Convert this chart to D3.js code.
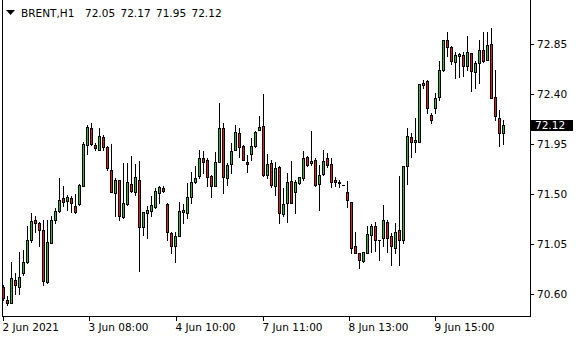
<!DOCTYPE html>
<html>
<head>
<meta charset="utf-8">
<script src="https://cdn.jsdelivr.net/npm/d3@7"></script>
<style>
  body { margin: 0; background: #fff; }
  text { font-family: "DejaVu Sans", sans-serif; font-size: 10.5px; fill: #000; }
</style>
</head>
<body>
<div id="chart"></div>
<script>
// BRENT H1 - data lästa från bilden
const open = [70.66,70.55,70.52,70.73,70.66,70.79,70.89,71.09,71.27,71.24,
  71.18,70.71,71.06,71.27,71.35,71.46,71.44,71.46,71.39,71.41,
  71.57,71.94,72.09,71.94,71.90,72.01,71.92,71.72,71.51,71.63,
  71.29,71.41,71.59,71.52,71.63,71.20,71.33,71.35,71.38,71.51,
  71.55,71.41,71.15,71.03,71.12,71.34,71.33,71.47,71.61,71.66,
  71.82,71.81,71.66,71.57,71.79,72.09,71.64,71.77,71.90,72.05,
  71.93,71.79,71.86,71.93,72.08,72.11,71.67,71.78,71.57,71.74,
  71.32,71.42,71.62,71.52,71.60,71.64,71.83,71.78,71.81,71.59,
  71.68,71.82,71.77,71.63,71.61,71.58,71.52,71.43,71.03,70.97,
  70.90,70.97,71.13,71.21,71.09,71.10,71.25,71.12,71.01,71.18,
  71.09,71.75,72.01,71.97,71.97,72.48,72.52,72.21,72.27,72.37,
  72.62,72.89,72.82,72.69,72.74,72.75,72.65,72.77,72.60,72.68,
  72.80,72.71,72.85,72.37,72.18,72.05];

const high = [70.68,70.58,70.89,70.79,70.98,71.00,71.21,71.33,71.30,71.25,
  71.27,71.27,71.30,71.37,71.64,71.57,71.49,71.48,71.50,71.59,
  71.97,72.12,72.14,71.96,72.09,72.03,71.93,71.95,71.64,71.63,
  71.78,71.78,71.84,71.77,71.80,71.34,71.39,71.48,71.55,71.57,
  71.57,71.42,71.16,71.16,71.43,71.41,71.60,71.70,71.75,71.90,
  71.89,71.82,71.67,71.88,72.32,72.14,71.78,71.96,72.12,72.09,
  71.94,71.85,72.00,72.07,72.20,72.40,71.86,71.81,71.79,71.75,
  71.55,71.69,71.80,71.63,71.65,71.89,71.84,72.07,71.82,71.76,
  71.90,71.87,71.82,71.65,71.63,71.58,71.62,71.43,71.16,70.97,
  70.98,71.21,71.23,71.25,71.09,71.40,71.27,71.15,71.24,71.66,
  71.75,72.09,72.05,72.18,72.49,72.53,72.53,72.23,72.41,72.70,
  72.89,72.96,72.83,72.78,72.77,72.78,72.92,72.77,72.70,72.89,
  72.96,72.96,72.99,72.62,72.26,72.17];

const low = [70.55,70.50,70.52,70.60,70.60,70.77,70.88,71.07,71.16,71.03,
  70.68,70.70,71.06,71.24,71.34,71.39,71.36,71.34,71.33,71.40,
  71.57,71.86,71.94,71.90,71.90,71.90,71.72,71.52,71.30,71.27,
  71.28,71.40,71.52,71.49,70.81,71.13,71.10,71.30,71.37,71.42,
  71.52,71.09,70.97,70.89,71.12,71.24,71.28,71.42,71.60,71.64,
  71.69,71.57,71.47,71.57,71.79,71.51,71.58,71.69,71.90,71.83,
  71.81,71.70,71.81,71.92,72.08,71.66,71.64,71.56,71.49,71.24,
  71.30,71.25,71.42,71.33,71.59,71.63,71.75,71.76,71.57,71.36,
  71.67,71.74,71.56,71.57,71.56,71.58,71.38,70.97,70.97,70.83,
  70.89,70.97,70.98,70.99,70.91,71.03,70.98,70.86,70.97,70.86,
  71.06,71.59,71.83,71.88,71.97,72.45,72.23,72.14,72.23,72.35,
  72.61,72.74,72.67,72.54,72.55,72.56,72.62,72.43,72.45,72.50,
  72.69,72.71,72.36,72.17,71.93,71.95];

const close = [70.56,70.52,70.74,70.68,70.75,70.89,71.09,71.26,71.24,71.18,
  70.72,71.07,71.27,71.35,71.45,71.43,71.47,71.42,71.34,71.58,
  71.95,72.10,71.95,71.91,72.02,71.92,71.73,71.52,71.63,71.30,
  71.42,71.61,71.53,71.65,71.20,71.34,71.36,71.40,71.53,71.56,
  71.53,71.16,71.03,71.12,71.35,71.36,71.47,71.61,71.64,71.82,
  71.79,71.65,71.57,71.79,72.09,71.65,71.76,71.89,72.06,71.92,
  71.81,71.77,71.93,72.06,72.10,71.67,71.77,71.58,71.73,71.33,
  71.41,71.61,71.42,71.61,71.65,71.82,71.76,71.80,71.58,71.67,
  71.80,71.76,71.61,71.61,71.60,71.58,71.45,71.01,70.97,70.91,
  70.98,71.14,71.21,71.09,71.09,71.27,71.10,71.03,71.16,71.09,
  71.75,72.02,71.97,71.99,72.49,72.50,72.27,72.17,72.36,72.62,
  72.89,72.82,72.70,72.75,72.76,72.65,72.78,72.61,72.68,72.80,
  72.70,72.84,72.36,72.20,72.05,72.12];

// axlar
const priceTicks = [72.85, 72.40, 71.95, 71.50, 71.05, 70.60];
const timeLabels = ["2 Jun 2021", "3 Jun 08:00", "4 Jun 10:00", "7 Jun 11:00", "8 Jun 13:00", "9 Jun 15:00"];
const timeIdx = [0, 21.5, 43.25, 65, 86.5, 108];

const width = 580, height = 340;
const plotLeft = 2, plotRight = 530, plotBottom = 316;
const bullColor = "#2fb52f", bearColor = "#e31a1a";

const N = open.length;
const last = N - 1;

const svg = d3.select("#chart")
  .append("svg")
  .attr("width", width)
  .attr("height", height)
  .style("shape-rendering", "crispEdges");

// Skalor
const x = d3.scaleLinear()
  .domain([0, N - 1])
  .range([3, 3 + 4 * (N - 1)]);

const y = d3.scaleLinear()
  .domain([70.60, 72.85])
  .range([294, 44]);

const px = i => Math.round(x(i));
const py = v => Math.round(y(v));

// Ram
svg.append("path")
  .attr("d", `M${plotLeft + 0.5},0 V${plotBottom + 0.5} H${plotRight + 0.5} V0`)
  .attr("fill", "none")
  .attr("stroke", "#000");

// Prisaxel till höger
priceTicks.forEach(v => {
  svg.append("line")
    .attr("x1", plotRight).attr("x2", plotRight + 4)
    .attr("y1", py(v) + 0.5).attr("y2", py(v) + 0.5)
    .attr("stroke", "#000");
  svg.append("text")
    .attr("x", plotRight + 7)
    .attr("y", py(v) + 4)
    .text(v.toFixed(2));
});

// Tidsaxel
timeIdx.forEach((t, k) => {
  svg.append("line")
    .attr("x1", px(t) + 0.5).attr("x2", px(t) + 0.5)
    .attr("y1", plotBottom).attr("y2", plotBottom + 5)
    .attr("stroke", "#000");
  svg.append("text")
    .attr("x", px(t) - 0.5)
    .attr("y", 331)
    .text(timeLabels[k]);
});

// Veken
svg.append("g")
  .selectAll("line")
  .data(d3.range(N))
  .join("line")
  .attr("x1", i => px(i) + 0.5)
  .attr("x2", i => px(i) + 0.5)
  .attr("y1", i => py(high[i]))
  .attr("y2", i => py(low[i]) + 1)
  .attr("stroke", "#000");

// Kroppar
const bodies = svg.append("g");
d3.range(N).forEach(i => {
  const top = py(Math.max(open[i], close[i]));
  const bot = py(Math.min(open[i], close[i]));
  if (bot - top < 1) {
    // doji -> streck
    bodies.append("line")
      .attr("x1", px(i) - 1).attr("x2", px(i) + 2)
      .attr("y1", top + 0.5).attr("y2", top + 0.5)
      .attr("stroke", "#000");
  } else {
    bodies.append("rect")
      .attr("x", px(i) - 0.5)
      .attr("y", top + 0.5)
      .attr("width", 2)
      .attr("height", bot - top)
      .attr("fill", close[i] >= open[i] ? bullColor : bearColor)
      .attr("stroke", "#000");
  }
});

// Aktuellt pris
svg.append("rect")
  .attr("x", plotRight + 1)
  .attr("y", py(close[last]) - 5)
  .attr("width", 42)
  .attr("height", 11)
  .attr("fill", "#000");
svg.append("text")
  .attr("x", plotRight + 5)
  .attr("y", py(close[last]) + 4)
  .style("fill", "#fff")
  .text(close[last].toFixed(2));

// Titel
svg.append("path")
  .attr("d", "M6,10 H15 L10.5,15 Z")
  .attr("fill", "#000")
  .style("shape-rendering", "auto");

svg.append("text")
  .attr("x", 21)
  .attr("y", 17)
  .text("BRENT,H1");

[open[last], high[last], low[last], close[last]].forEach((v, k) => {
  svg.append("text")
    .attr("x", 85 + k * 35.5)
    .attr("y", 17)
    .text(v.toFixed(2));
});
</script>
</body>
</html>
